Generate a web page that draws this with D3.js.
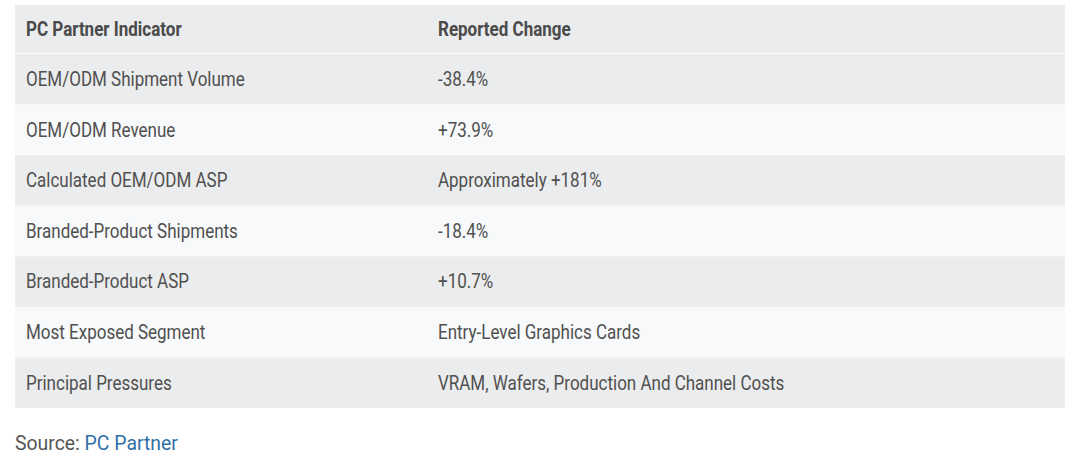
<!DOCTYPE html>
<html>
<head>
<meta charset="utf-8">
<script src="https://cdn.jsdelivr.net/npm/d3@7"></script>
<style>
  html, body { margin: 0; padding: 0; background: #fff; }
  svg { display: block; font-family: Roboto, "Noto Sans", sans-serif; }
</style>
</head>
<body>
<div id="table"></div>
<script>
var headers = ["PC Partner Indicator", "Reported Change"];

var indicators = [
  "OEM/ODM Shipment Volume",
  "OEM/ODM Revenue",
  "Calculated OEM/ODM ASP",
  "Branded-Product Shipments",
  "Branded-Product ASP",
  "Most Exposed Segment",
  "Principal Pressures"
];

var changes = [
  "-38.4%",
  "+73.9%",
  "Approximately +181%",
  "-18.4%",
  "+10.7%",
  "Entry-Level Graphics Cards",
  "VRAM, Wafers, Production And Channel Costs"
];

var w = 1080, h = 463;
var left = 15, right = 1065;
var headTop = 5, bodyTop = 54, bodyBottom = 408;

// table font in the picture is a condensed face: squeeze Roboto sideways
var fontSize = 19.5, squeeze = 17 / 19.5;

var svg = d3.select("#table").append("svg")
  .attr("width", w)
  .attr("height", h);

// columns
var xcol = d3.scaleOrdinal()
  .domain([0, 1])
  .range([26, 438]);

// rows
var yrow = d3.scaleBand()
  .domain(d3.range(indicators.length))
  .range([bodyTop, bodyBottom])
  .paddingInner(0);

function place(x, y){
  return "translate(" + x + "," + y + ") scale(" + squeeze + ",1)";
}

// header
svg.append("rect")
  .attr("x", left)
  .attr("y", headTop)
  .attr("width", right - left)
  .attr("height", bodyTop - headTop - 1)
  .style("fill", "#ebeced");

svg.selectAll(".head")
  .data(headers)
  .enter()
  .append("text")
    .attr("class", "head")
    .attr("transform", function(d, i){ return place(xcol(i), (headTop + bodyTop) / 2); })
    .attr("dy", "0.35em")
    .style("font-size", fontSize + "px")
    .style("font-weight", "bold")
    .style("fill", "#4a4a4a")
    .text(function(d){ return d; });

// body rows
var rows = svg.selectAll(".row")
  .data(indicators)
  .enter()
  .append("g")
    .attr("class", "row")
    .attr("transform", function(d, i){ return "translate(0," + yrow(i) + ")"; });

rows.append("rect")
  .attr("x", left)
  .attr("width", right - left)
  .attr("height", yrow.bandwidth())
  .style("fill", function(d, i){ return i % 2 === 0 ? "#ebeced" : "#f7f9fa"; });

rows.append("text")
  .attr("transform", place(xcol(0), yrow.bandwidth() / 2))
  .attr("dy", "0.35em")
  .style("font-size", fontSize + "px")
  .style("fill", "#505050")
  .text(function(d){ return d; });

rows.append("text")
  .attr("transform", place(xcol(1), yrow.bandwidth() / 2))
  .attr("dy", "0.35em")
  .style("font-size", fontSize + "px")
  .style("fill", "#505050")
  .text(function(d, i){ return changes[i]; });

// source line
var src = svg.append("text")
  .attr("x", 15)
  .attr("y", 450)
  .style("font-size", "19.4px")
  .style("fill", "#555");
src.append("tspan").text("Source: ");
src.append("tspan").style("fill", "#2f6fa7").text("PC Partner");
</script>
</body>
</html>
